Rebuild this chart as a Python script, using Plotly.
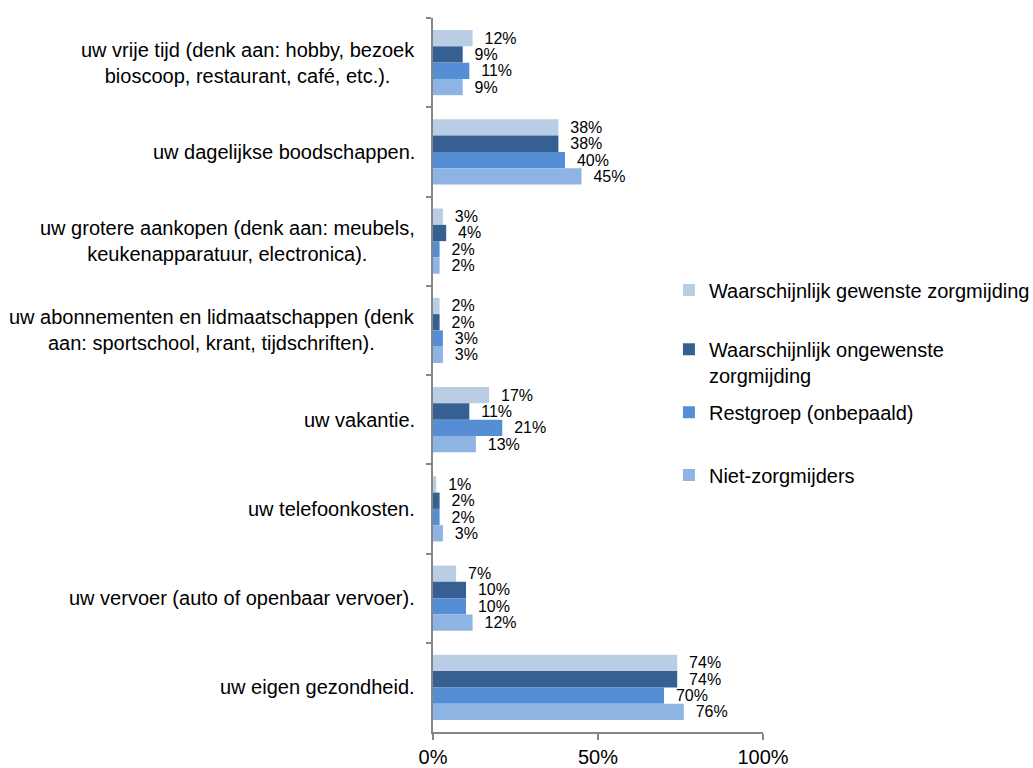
import plotly.graph_objects as go

categories = [
    "uw vrije tijd (denk aan: hobby, bezoek<br>bioscoop, restaurant, café, etc.).",
    "uw dagelijkse boodschappen.",
    "uw grotere aankopen (denk aan: meubels,<br>keukenapparatuur, electronica).",
    "uw abonnementen en lidmaatschappen (denk<br>aan: sportschool, krant, tijdschriften).",
    "uw vakantie.",
    "uw telefoonkosten.",
    "uw vervoer (auto of openbaar vervoer).",
    "uw eigen gezondheid.",
]
series_names = [
    "Waarschijnlijk gewenste zorgmijding",
    "Waarschijnlijk ongewenste<br>zorgmijding",
    "Restgroep (onbepaald)",
    "Niet-zorgmijders",
]
gewenste = [12, 38, 3, 2, 17, 1, 7, 74]
ongewenste = [9, 38, 4, 2, 11, 2, 10, 74]
restgroep = [11, 40, 2, 3, 21, 2, 10, 70]
niet = [9, 45, 2, 3, 13, 3, 12, 76]
series_values = [gewenste, ongewenste, restgroep, niet]
colors = ["#B9CDE5", "#376092", "#558ED5", "#8EB4E3"]
x_ticks = [0, 50, 100]

FONT = "Liberation Sans, Arial, sans-serif"
legend_ids = ["legend", "legend2", "legend3", "legend4"]
legend_y = [0.619, 0.518, 0.448, 0.360]

fig = go.Figure()
for i, (name, vals, col) in enumerate(zip(series_names, series_values, colors)):
    fig.add_trace(go.Bar(
        y=categories, x=vals, name=name, orientation="h",
        marker=dict(color=col, line=dict(width=0)),
        text=["\u00a0\u00a0" + f"{v}%" for v in vals],
        textposition="outside", cliponaxis=False, constraintext="none",
        textfont=dict(family=FONT, size=16, color="#000000"),
        legend=legend_ids[i],
    ))

for cat in categories:
    fig.add_annotation(
        x=0, xref="paper", y=cat, yref="y", text=cat, showarrow=False,
        xanchor="right", yanchor="middle", align="center", xshift=-16,
        font=dict(family=FONT, size=20, color="#000000"),
    )

legend_common = dict(
    x=0.715, xanchor="left", yanchor="middle", valign="top",
    font=dict(family=FONT, size=20, color="#000000"),
    bgcolor="rgba(0,0,0,0)",
)

fig.update_layout(
    width=1033, height=768,
    margin=dict(l=433, r=270, t=18, b=36, autoexpand=False),
    paper_bgcolor="white", plot_bgcolor="white",
    barmode="group", bargap=0.27, bargroupgap=0,
    font=dict(family=FONT, size=20, color="#000000"),
    showlegend=True,
)
fig.update_layout({lid: dict(legend_common, y=ly) for lid, ly in zip(legend_ids, legend_y)})

fig.update_xaxes(
    range=[0, 100], tickvals=x_ticks, ticktext=[f"{t}%" for t in x_ticks],
    showgrid=False, zeroline=False, showline=True, linecolor="#868686", linewidth=1.5,
    ticks="outside", ticklen=6, tickcolor="#868686", tickwidth=1.5,
    ticklabelstandoff=0,
    tickfont=dict(family=FONT, size=20, color="#000000"),
)
fig.update_yaxes(
    autorange="reversed", showticklabels=False, showgrid=False, zeroline=False,
    showline=True, linecolor="#868686", linewidth=1.5,
    ticks="outside", ticklen=5, tickcolor="#868686", tickwidth=1.5, tickson="boundaries",
)

fig.write_html(
    "out.html",
    config={"displayModeBar": False},
    post_script="document.body.style.margin='0px';",
)
